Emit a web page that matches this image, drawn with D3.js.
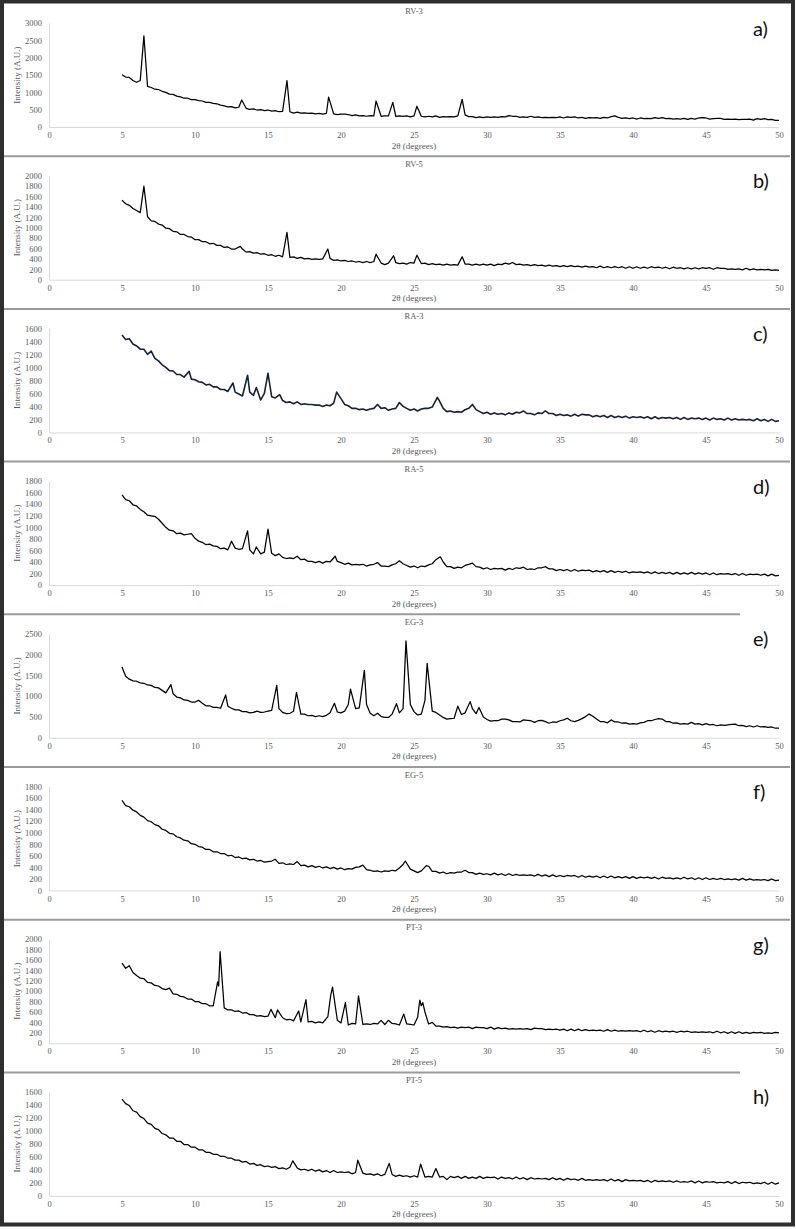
<!DOCTYPE html>
<html>
<head>
<meta charset="utf-8">
<script src="https://cdn.jsdelivr.net/npm/d3@7"></script>
<style>
  body { margin: 0; background: #fff; }
  svg { display: block; }
</style>
</head>
<body>
<svg id="fig"></svg>
<script>
// 2theta grid, 5 -> 50 deg every 0.25 deg
var twoTheta = d3.range(0, 181).map(function(i) { return 5 + i * 0.25; });

// background intensities on the grid (A.U.), one row = 5 degrees
var rv3 = [
  1510,1440,1430,1340,1290,1340,1300,1170,1140,1090,1080,1030,1000,950,940,890,870,830,830,790,
  790,760,750,710,710,680,670,630,610,580,590,550,570,540,540,510,520,490,500,470,
  490,460,470,440,450,440,440,400,430,400,410,390,400,380,390,370,390,370,380,360,
  370,370,360,330,350,320,330,310,330,320,340,310,320,320,340,310,320,310,320,290,
  320,310,310,290,310,290,320,280,300,290,300,290,320,330,350,300,300,270,290,270,
  290,280,290,280,300,290,330,310,310,280,290,280,310,280,290,270,280,270,280,270,
  290,260,290,280,290,260,280,250,270,260,270,250,280,260,300,320,280,250,260,240,
  260,230,260,240,250,240,270,250,270,240,250,230,240,230,250,220,250,230,260,270,
  260,230,240,250,250,220,230,220,230,210,220,220,230,200,240,220,240,210,220,190,
  190];
var rv5 = [
  1530,1460,1430,1370,1330,1290,1300,1210,1130,1120,1070,1050,990,980,930,920,870,870,830,820,
  770,770,730,730,690,700,660,660,620,630,590,590,550,590,530,540,510,520,490,500,
  470,480,450,470,440,460,430,440,410,430,400,410,390,400,390,400,390,410,370,380,
  360,370,350,360,340,350,330,350,330,350,320,320,290,320,300,330,310,320,300,330,
  320,350,310,320,290,310,290,300,280,300,280,290,280,310,300,300,280,300,280,300,
  280,300,270,300,290,320,300,330,290,300,280,290,270,290,270,280,260,280,260,270,
  250,270,250,270,250,260,240,260,240,250,230,260,230,250,230,250,230,250,220,250,
  220,250,220,240,220,250,230,240,220,240,210,240,220,230,210,230,210,230,210,230,
  220,230,200,230,220,220,200,210,200,210,190,220,190,210,190,200,190,200,180,190,
  180];
var ra3 = [
  1500,1430,1440,1360,1330,1280,1280,1200,1250,1140,1100,1040,1000,950,945,890,890,850,860,820,
  810,780,770,730,740,700,700,660,660,630,660,620,590,560,600,620,570,620,500,600,
  700,550,530,550,490,460,470,440,470,430,440,430,430,420,420,400,420,410,450,520,
  520,430,410,370,370,350,360,340,360,370,430,370,380,340,360,370,420,400,370,340,
  360,330,360,370,370,390,480,480,370,320,330,310,320,310,350,370,400,350,320,290,
  310,280,300,280,290,270,300,280,310,300,330,290,290,270,300,290,330,290,290,260,
  280,260,270,250,280,250,280,270,270,240,260,240,260,230,260,230,250,230,250,220,
  240,230,240,220,240,210,240,210,230,220,230,210,230,200,230,200,220,210,220,200,
  220,190,220,200,210,190,220,190,210,190,200,190,200,180,210,180,200,170,200,170,
  180];
var ra5 = [
  1560,1480,1460,1390,1370,1310,1270,1210,1200,1190,1140,1070,1000,950,940,890,900,870,880,890,
  810,760,740,700,710,680,670,630,640,610,690,640,620,630,580,610,540,630,540,570,
  700,550,510,540,480,460,470,460,500,440,450,410,410,390,410,380,410,400,460,410,
  390,360,380,350,360,350,360,330,350,360,390,330,330,320,350,370,420,370,340,310,
  330,300,330,320,350,370,440,470,400,320,320,290,310,300,340,360,380,320,310,280,
  300,270,290,280,290,260,290,270,300,290,310,270,280,270,300,300,320,280,280,250,
  270,250,270,240,270,240,260,250,260,230,250,230,250,220,250,220,240,220,240,210,
  230,220,230,210,230,200,230,200,220,200,220,190,220,190,210,190,220,190,210,190,
  210,180,210,180,200,190,200,180,200,170,200,170,190,180,190,170,190,160,190,160,
  170];
var eg3 = [
  1700,1480,1410,1370,1360,1320,1310,1270,1260,1210,1200,1140,1080,1150,1060,980,960,910,900,860,
  860,900,830,770,770,730,730,710,800,760,710,670,670,630,630,600,610,640,610,620,
  640,660,800,700,610,580,590,640,700,570,570,530,540,510,530,510,540,600,700,620,
  600,640,800,900,700,720,900,800,590,530,590,510,490,490,570,700,600,700,1200,800,
  630,550,570,900,1200,640,610,550,490,450,460,470,700,560,600,780,700,580,680,500,
  440,400,410,410,450,450,430,390,390,380,430,420,410,370,410,420,390,350,380,370,
  410,430,470,410,390,420,460,510,570,520,450,390,390,360,430,380,380,350,360,330,
  340,330,360,370,410,410,440,460,450,390,390,350,360,330,340,330,370,330,340,310,
  340,310,320,290,310,300,310,320,330,290,300,270,290,260,290,260,270,250,260,230,
  230];
var eg5 = [
  1560,1470,1450,1390,1360,1300,1270,1210,1190,1140,1120,1060,1040,990,980,930,910,870,860,810,
  800,760,750,710,710,670,670,640,640,600,610,570,580,550,560,530,540,510,520,490,
  500,510,540,470,480,450,460,450,500,430,440,410,430,400,420,390,410,380,400,370,
  390,360,380,370,400,410,440,360,350,330,340,320,340,330,350,340,390,450,490,370,
  340,310,340,370,420,330,330,300,320,290,310,300,320,320,350,310,310,280,300,280,
  290,270,300,270,290,260,290,260,280,260,270,260,270,250,280,250,270,240,270,240,
  260,240,260,250,260,230,260,230,250,230,250,220,250,220,250,220,240,220,240,210,
  240,210,230,220,230,210,230,200,230,210,220,200,220,200,230,200,220,190,220,190,
  220,190,210,190,210,190,200,190,200,180,210,180,200,180,190,180,190,170,200,170,
  180];
var pt3 = [
  1540,1440,1490,1360,1300,1250,1240,1170,1160,1110,1100,1050,1030,1060,950,940,900,890,850,850,
  800,800,760,760,720,720,900,800,680,640,640,610,620,580,590,550,550,520,530,510,
  520,560,490,560,490,450,460,430,480,410,460,410,420,390,410,390,440,700,800,440,
  390,500,350,380,370,420,360,370,360,380,370,440,360,440,380,370,350,450,370,360,
  350,500,700,600,370,400,330,330,310,320,300,310,290,310,300,310,280,310,300,300,
  280,310,270,300,280,290,270,280,270,280,270,280,260,290,280,280,260,270,260,270,
  250,270,240,270,240,270,240,260,240,250,240,250,230,260,230,250,230,240,230,240,
  230,240,220,250,220,240,210,240,220,230,220,230,210,230,220,230,210,220,210,220,
  210,220,200,230,200,220,190,220,190,220,190,210,190,210,200,210,190,200,190,210,
  200];
var pt5 = [
  1490,1420,1390,1310,1290,1220,1190,1120,1100,1040,1020,960,940,890,890,840,840,790,790,750,
  750,710,710,670,670,640,640,610,610,580,580,550,550,520,530,490,500,470,480,450,
  460,440,450,420,430,410,440,440,430,400,410,390,410,380,400,370,390,360,390,360,
  370,360,370,340,360,380,350,330,340,320,340,310,330,350,330,300,320,300,310,290,
  310,290,320,290,300,290,320,290,300,250,300,280,300,270,300,270,290,270,300,270,
  290,280,290,260,290,270,280,260,290,260,280,250,280,260,270,260,270,250,280,250,
  270,240,270,250,260,240,270,240,250,240,250,240,250,230,260,230,250,220,250,230,
  240,230,240,220,240,210,240,220,230,220,230,210,230,210,220,210,230,200,230,200,
  220,210,220,200,210,200,220,190,220,190,210,200,210,190,200,190,210,180,210,180,
  200];

// reflections: [2theta, intensity]
var rv3Peaks = [[6.5,2630],[13.2,780],[16.3,1340],[19.15,860],[22.4,750],[23.55,710],[25.2,600],[28.3,800]];
var rv5Peaks = [[6.5,1800],[13.1,640],[16.3,910],[19.1,590],[22.4,490],[23.6,460],[25.2,470],[28.3,440]];
var ra3Peaks = [[9.6,940],[12.6,760],[13.6,880],[14.2,690],[15.0,910],[15.8,580],[19.7,620],[24.0,460],[26.6,540],[29.0,430]];
var ra5Peaks = [[12.5,760],[13.6,940],[14.2,660],[15.0,970],[19.6,500],[26.8,490]];
var eg3Peaks = [[8.35,1280],[12.1,1030],[15.6,1260],[16.95,1090],[19.55,830],[20.65,1170],[21.6,1620],[23.8,820],[24.45,2330],[25.9,1790],[28.0,760],[28.85,870],[29.45,730]];
var eg5Peaks = [[24.4,510],[25.85,430]];
var pt3Peaks = [[11.55,1180],[11.62,1100],[11.72,1760],[15.2,650],[15.65,640],[17.1,620],[17.6,840],[19.1,510],[19.3,930],[19.42,1080],[20.3,780],[21.2,910],[24.3,560],[25.4,830],[25.5,720],[25.6,780]];
var pt5Peaks = [[16.7,540],[21.15,550],[23.3,500],[25.45,490],[26.5,420]];

var sampleNames = ["RV-3","RV-5","RA-3","RA-5","EG-3","EG-5","PT-3","PT-5"];
var panelTags = ["a)","b)","c)","d)","e)","f)","g)","h)"];
var yMax = [3000,2000,1600,1800,2500,1800,2000,1600];
var yStep = [500,200,200,200,500,200,200,200];
var xTicks = [0,5,10,15,20,25,30,35,40,45,50];

var panels = [
  {vals: rv3, peaks: rv3Peaks, color: "#000"},
  {vals: rv5, peaks: rv5Peaks, color: "#000"},
  {vals: ra3, peaks: ra3Peaks, color: "#16213a"},
  {vals: ra5, peaks: ra5Peaks, color: "#000"},
  {vals: eg3, peaks: eg3Peaks, color: "#000"},
  {vals: eg5, peaks: eg5Peaks, color: "#000"},
  {vals: pt3, peaks: pt3Peaks, color: "#000"},
  {vals: pt5, peaks: pt5Peaks, color: "#000"}
];

var width = 796, height = 1229;
var top0 = 3.5, panelH = 152.7;
var serif = "'Liberation Serif', 'Times New Roman', serif";
var grey = "#595959";

var svg = d3.select("#fig").attr("width", width).attr("height", height);
svg.append("rect").attr("width", width).attr("height", height).attr("fill", "#fff");

var x = d3.scaleLinear().domain([0, 50]).range([49, 779]);

// merge grid background with the peak points
function buildSeries(vals, peaks) {
  var pts = vals.map(function(v, i) { return [twoTheta[i], v]; })
    .filter(function(p) { return !peaks.some(function(q) { return Math.abs(q[0] - p[0]) < 0.12; }); });
  return pts.concat(peaks).sort(function(a, b) { return a[0] - b[0]; });
}

panels.forEach(function(p, i) {
  var T = top0 + i * panelH;
  var y = d3.scaleLinear().domain([0, yMax[i]]).range([T + 123.5, T + 19.5]);
  var g = svg.append("g");

  // x axis
  var xa = g.append("g")
      .attr("transform", "translate(0," + (T + 123.5) + ")")
      .call(d3.axisBottom(x).tickValues(xTicks).tickSize(0).tickPadding(5));
  // y axis
  var ya = g.append("g")
      .attr("transform", "translate(49,0)")
      .call(d3.axisLeft(y).tickValues(d3.range(0, yMax[i] + 1, yStep[i]))
        .tickFormat(d3.format("d")).tickSize(0).tickPadding(7));
  [xa, ya].forEach(function(a) {
    a.select(".domain").attr("stroke", "#d9d9d9").attr("stroke-width", 1);
    a.selectAll("text").attr("font-family", serif).attr("font-size", 8.5).attr("fill", grey);
  });

  var line = d3.line()
      .x(function(d) { return x(d[0]); })
      .y(function(d) { return y(d[1]); });

  g.append("path")
      .datum(buildSeries(p.vals, p.peaks))
      .attr("d", line)
      .attr("fill", "none")
      .attr("stroke", p.color)
      .attr("stroke-width", i == 2 ? 1.6 : 1.25)
      .attr("stroke-linejoin", "round");

  // titles
  g.append("text")
      .attr("x", 414).attr("y", T + 10.5)
      .attr("text-anchor", "middle")
      .attr("font-family", serif).attr("font-size", 8.5).attr("fill", grey)
      .text(sampleNames[i]);
  g.append("text")
      .attr("x", 414).attr("y", T + 145)
      .attr("text-anchor", "middle")
      .attr("font-family", serif).attr("font-size", 9).attr("fill", grey)
      .text("2θ (degrees)");
  g.append("text")
      .attr("transform", "translate(20," + (T + 71.5) + ") rotate(-90)")
      .attr("text-anchor", "middle")
      .attr("font-family", serif).attr("font-size", 9).attr("fill", grey)
      .text("Intensity (A.U.)");
  g.append("text")
      .attr("x", 753).attr("y", T + 32)
      .attr("font-family", "Lato, 'Open Sans', sans-serif").attr("font-size", 20).attr("fill", "#111")
      .text(panelTags[i]);

  // separator above the panel
  if (i > 0) {
    svg.append("line")
        .attr("x1", 4).attr("x2", (i == 4 || i == 7) ? 740 : 790)
        .attr("y1", T).attr("y2", T)
        .attr("stroke", "#9a9a9a").attr("stroke-width", 2);
  }
});

// outer frame
svg.append("rect")
    .attr("x", 2).attr("y", 1.5).attr("width", 791).attr("height", 1223)
    .attr("fill", "none").attr("stroke", "#2e2e2e").attr("stroke-width", 4);
</script>
</body>
</html>
